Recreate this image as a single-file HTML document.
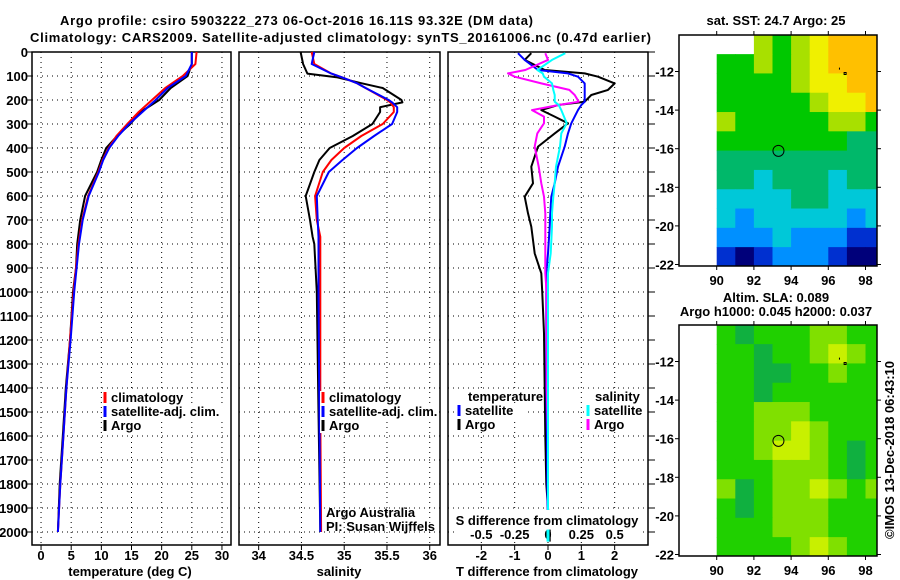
<!DOCTYPE html>
<html><head><meta charset="utf-8"><style>
html,body{margin:0;padding:0;background:#fff;}
svg{display:block;font-family:"Liberation Sans",sans-serif;}
.b{font-weight:bold;font-size:13px;}
</style></head><body>
<svg id="c" width="900" height="580" xmlns="http://www.w3.org/2000/svg"></svg>
<script>
// ---------- data ----------
const tempDepth=[0,50,100,150,200,250,300,350,400,450,500,600,700,800,900,1000,1200,1400,1600,1800,2000];
const tempArgo=[25,25,24.3,21.5,19.6,16.5,14.8,12.6,10.8,10,9.3,7.3,6.5,6,5.8,5.3,4.8,4.1,3.6,3.1,2.8];
const tempClim=[25.8,25.6,23.5,20.6,18.4,16.2,14.3,12.5,11.2,10.2,9.5,7.8,6.8,6.2,5.8,5.4,4.8,4.2,3.7,3.2,2.8];
const tempSat=[25,25,24,21,19,16.8,14.6,12.8,11.3,10.3,9.6,7.9,6.9,6.3,5.9,5.5,4.9,4.2,3.7,3.2,2.8];
const salDepth=[0,50,90,105,130,150,200,210,230,250,300,350,400,450,500,600,700,770,800,1000,1500,2000];
const salArgo=[34.49,34.52,34.57,34.91,35.2,35.45,35.67,35.68,35.42,35.42,35.33,35.1,34.83,34.71,34.65,34.55,34.6,34.63,34.65,34.68,34.7,34.72];
const salClim=[34.62,34.65,34.85,34.97,35.15,35.25,35.5,35.54,35.58,35.58,35.45,35.2,35.0,34.85,34.75,34.66,34.68,34.72,34.72,34.72,34.72,34.73];
const salSat=[34.65,34.62,34.85,34.97,35.15,35.25,35.52,35.56,35.62,35.62,35.56,35.35,35.15,34.98,34.82,34.68,34.69,34.7,34.7,34.7,34.71,34.72];
const dDepth=[5,33,75,89,103,131,158,179,207,221,242,269,297,339,394,478,547,603,672,728,839,922,1006,1172,1400,1600,1800,2000];
const dTArgo=[-0.5,-0.7,-0.1,1.1,1.5,2.0,1.8,1.3,1.1,0.3,-0.2,0.2,0.6,0.2,-0.3,-0.5,-0.45,-0.7,-0.6,-0.5,-0.4,-0.2,-0.17,-0.12,-0.1,-0.08,-0.05,0.05];
const dTSat=[-0.9,-0.7,-0.3,0.6,0.9,1.1,1.1,1.1,1.1,1.0,0.9,0.8,0.7,0.6,0.5,0.3,0.2,0.1,0.07,0.05,0.0,-0.05,-0.05,-0.05,-0.05,-0.03,-0.02,0.0];
const dSArgo=[-0.02,0.0,-0.17,-0.3,-0.25,-0.05,0.16,0.2,0.23,0.08,-0.12,-0.03,-0.03,-0.08,-0.1,-0.07,-0.05,-0.03,-0.02,-0.02,-0.02,-0.02,-0.01,-0.01,-0.01,0.0,0.0,0.0];
const dSSat=[0.13,0.03,-0.08,-0.04,-0.03,0.03,0.04,0.05,0.05,0.08,0.1,0.12,0.14,0.1,0.09,0.06,0.05,0.04,0.03,0.03,0.02,0.0,0.0,0.0,0.0,0.0,0.0,0.0];
const depthTicks=[0,100,200,300,400,500,600,700,800,900,1000,1100,1200,1300,1400,1500,1600,1700,1800,1900,2000];
const tempTicks=[0,5,10,15,20,25,30];
const salTicks=[34,34.5,35,35.5,36];
const salTickLabels=["34","34.5","35","35.5","36"];
const dTTicks=[-2,-1,0,1,2];
const dSTicks=[-0.5,-0.25,0,0.25,0.5];
const dSTickLabels=["-0.5","-0.25","0","0.25","0.5"];
const lonTicks=[90,92,94,96,98];
const latTicks=[-12,-14,-16,-18,-20,-22];
const sstGrid=[
[null,null,6,5,6,7,8,8,8],
[5,5,6,5,6,7,8,8,8],
[5,5,5,5,6,7,7,8,8],
[5,5,5,5,5,6,7,7,8],
[6,5,5,5,5,5,6,6,5],
[5,5,5,5,5,5,5,4,4],
[4,4,4,4,4,4,4,4,4],
[4,4,3,4,4,4,3,4,4],
[3,3,3,3,4,4,3,3,3],
[3,2,3,3,3,3,3,2,3],
[2,2,2,3,2,2,2,1,1],
[1,0,1,2,2,2,1,0,0]];
const slaGrid=[
[1,0,1,1,1,2,2,1,1],
[1,1,0,1,1,2,3,2,1],
[1,1,0,0,1,1,2,1,1],
[1,1,0,1,1,1,1,1,1],
[1,1,2,2,2,1,1,1,1],
[1,1,2,2,3,2,1,1,1],
[1,1,2,3,3,2,1,0,1],
[1,1,1,2,2,2,1,0,1],
[2,0,1,2,2,3,2,1,2],
[1,0,1,2,2,2,1,1,1],
[1,1,1,2,2,2,1,1,1],
[1,1,1,1,2,3,2,1,1]];
const argoLon=93.32, argoLat=-16.11;
const sstColors=["#00007a","#0030d0","#0090ff","#00c8d8","#00b86a","#00c800","#a8e000","#f0f000","#ffc000"];
const slaColors=["#10b040","#20d000","#80e000","#c8f000"];

// ---------- helpers ----------
const NS="http://www.w3.org/2000/svg";
const svg=document.getElementById('c');
function mk(tag,attrs,parent){const e=document.createElementNS(NS,tag);for(const k in attrs)e.setAttribute(k,attrs[k]);(parent||svg).appendChild(e);return e;}
function txt(s,x,y,anchor,cls,parent){const t=mk('text',{x:x,y:y,'text-anchor':anchor||'start','class':cls||'b'},parent);t.textContent=s;return t;}

const Y0=52, PY=0.24;
const yD=d=>Y0+d*PY;
const panels=[
 {x0:32,x1:231,lo:-1.5,hi:31.5,name:'temperature-panel'},
 {x0:239,x1:440,lo:33.77,hi:36.12,name:'salinity-panel'},
 {x0:448,x1:648,lo:-3,hi:3,name:'difference-panel'}];
const BOT=545;
function xf(p,v){return p.x0+(v-p.lo)/(p.hi-p.lo)*(p.x1-p.x0);}

panels.forEach((p,i)=>{
  const g=mk('g',{});
  
  
  depthTicks.forEach(d=>{
    const l=mk('line',{x1:p.x0,x2:p.x1,y1:yD(d),y2:yD(d),stroke:'#000','stroke-width':1,'stroke-dasharray':'1,4'},g);
    
    
  });
  const ticks=i==0?tempTicks:(i==1?salTicks:dTTicks);
  ticks.forEach(v=>{
    const l=mk('line',{x1:xf(p,v),x2:xf(p,v),y1:Y0,y2:BOT,stroke:'#000','stroke-width':1,'stroke-dasharray':'1,4'},g);
    
    
    mk('line',{x1:xf(p,v),x2:xf(p,v),y1:BOT,y2:BOT+5,stroke:'#000'},g);
  });
  const r=mk('rect',{x:p.x0,y:Y0,width:p.x1-p.x0,height:BOT-Y0,fill:'none',stroke:'#000','stroke-width':1.5},g);
  
  
});

depthTicks.forEach(d=>{
  const t=txt(String(d),28,yD(d)+5,'end');
  
  
  mk('line',{x1:27,x2:32,y1:yD(d),y2:yD(d),stroke:'#000'});
  mk('line',{x1:648,x2:655,y1:yD(d),y2:yD(d),stroke:'#000'});
});
tempTicks.forEach(v=>{const t=txt(String(v),xf(panels[0],v),560,'middle');});
salTicks.forEach((v,i)=>{const t=txt(salTickLabels[i],xf(panels[1],v),560,'middle');});
dTTicks.forEach(v=>{const t=txt(String(v),xf(panels[2],v),560,'middle');});
const pS={x0:448,x1:648,lo:-0.75,hi:0.75};

function line(p,xs,ds,color,name,w){
  const pts=xs.map((v,i)=>xf(p,v).toFixed(1)+','+yD(ds[i]).toFixed(1)).join(' ');
  const pl=mk('polyline',{points:pts,fill:'none',stroke:color,'stroke-width':w||2,'stroke-linejoin':'round'});
  
  
}
line(panels[0],tempArgo,tempDepth,'#000','temp-argo-line');
line(panels[0],tempClim,tempDepth,'#f00','temp-climatology-line');
line(panels[0],tempSat,tempDepth,'#00f','temp-satellite-line');
line(panels[1],salArgo,salDepth,'#000','salinity-argo-line');
line(panels[1],salClim,salDepth,'#f00','salinity-climatology-line');
line(panels[1],salSat,salDepth,'#00f','salinity-satellite-line');
line(panels[2],dTArgo,dDepth,'#000','t-diff-argo-line');
line(panels[2],dTSat,dDepth,'#00f','t-diff-satellite-line');
line(pS,dSArgo,dDepth,'#f0f','s-diff-argo-line');
line(pS,dSSat,dDepth,'#0ff','s-diff-satellite-line');

(function(){const b=mk('rect',{x:455,y:510,width:188,height:30,fill:'#fff'});})();
txt('S difference from climatology',547,525,'middle');
dSTicks.forEach((v,i)=>{const t=txt(dSTickLabels[i],xf(pS,v),539,'middle');});
(function(){
  line(panels[2],[dTArgo[dTArgo.length-1],dTArgo[dTArgo.length-1]],[1990,2040],'#000','t-diff-argo-tail');
  line(pS,[dSSat[dSSat.length-1],dSSat[dSSat.length-1]],[1990,2040],'#0ff','s-diff-sat-tail',3);
})();

[['temperature (deg C)',130,576,'x-axis-title-temperature'],['salinity',339,576,'x-axis-title-salinity'],['T difference from climatology',547,576,'x-axis-title-t-diff']].forEach(a=>{const t=txt(a[0],a[1],a[2],'middle');});

function legend(x,y,color,label,name,right){
  const w=Math.min(label.length*6.8+10,right-(x-2)-1);
  const bg=mk('rect',{x:x-2,y:y-11,width:w,height:14,fill:'#fff'});
  
  mk('line',{x1:x+1,x2:x+1,y1:y-10,y2:y+1,stroke:color,'stroke-width':3});
  const t=txt(label,x+7,y);
  
  
}
legend(104,402,'#f00','climatology','legend-climatology-t',231);
legend(104,416,'#00f','satellite-adj. clim.','legend-satellite-t',231);
legend(104,430,'#000','Argo','legend-argo-t',231);
legend(322,402,'#f00','climatology','legend-climatology-s',440);
legend(322,416,'#00f','satellite-adj. clim.','legend-satellite-s',440);
legend(322,430,'#000','Argo','legend-argo-s',440);
(function(){const b=mk('rect',{x:466,y:389,width:76,height:13,fill:'#fff'});})();
txt('temperature',468,401);
legend(458,415,'#00f','satellite','legend-satellite-dt',648);
legend(458,429,'#000','Argo','legend-argo-dt',648);
(function(){const b=mk('rect',{x:593,y:389,width:50,height:13,fill:'#fff'});})();
txt('salinity',595,401);
legend(587,415,'#0ff','satellite','legend-satellite-ds',648);
legend(587,429,'#f0f','Argo','legend-argo-ds',648);

const c1=txt('Argo Australia',326,517,'start','');c1.setAttribute('font-size','11.5');
const c2=txt('PI: Susan Wijffels',326,531,'start','');c2.setAttribute('font-size','11.5');

const t1=txt('Argo profile: csiro 5903222_273 06-Oct-2016 16.11S 93.32E (DM data)',60,25,'start');t1.setAttribute('font-size','15.5');t1.setAttribute('textLength','473');
const t2=txt('Climatology: CARS2009. Satellite-adjusted climatology: synTS_20161006.nc (0.47d earlier)',30,42,'start');t2.setAttribute('font-size','15.5');t2.setAttribute('textLength','621');

function map(top,grid,colors,name){
  const L=679,R=877,B=top+231;
  const lonX=lo=>716.7+(lo-90)*18.6;
  const latY=la=>top+36.5+(-12-la)*19.3;
  const g=mk('g',{});
  
  
  grid.forEach((row,ri)=>row.forEach((v,ci)=>{
    if(v===null)return;
    const x=lonX(90+ci), y=Math.max(latY(-10.1-ri),top);
    const w=Math.min(lonX(91+ci),R)-x, h=Math.min(latY(-11.1-ri),B)-y;
    const r=mk('rect',{x:x,y:y,width:w+0.5,height:h+0.5,fill:colors[v]},g);
    
    
  }));
  const f=mk('rect',{x:L,y:top,width:R-L,height:B-top,fill:'none',stroke:'#000','stroke-width':1.5},g);
  
  lonTicks.forEach(lo=>{
    mk('line',{x1:lonX(lo),x2:lonX(lo),y1:B,y2:B+4,stroke:'#000'},g);
    mk('line',{x1:lonX(lo),x2:lonX(lo),y1:top,y2:top-4,stroke:'#000'},g);
    const t=txt(String(lo),lonX(lo),B+19,'middle','b',g);
  });
  latTicks.forEach(la=>{
    mk('line',{x1:L-4,x2:L,y1:latY(la),y2:latY(la),stroke:'#000'},g);
    mk('line',{x1:R,x2:R+4,y1:latY(la),y2:latY(la),stroke:'#000'},g);
    const t=txt(String(la),674,latY(la)+5,'end','b',g);
  });
  const m=mk('circle',{cx:lonX(argoLon),cy:latY(argoLat),r:5.5,fill:'none',stroke:'#000','stroke-width':1},g);
  
  const s=mk('path',{d:`M${lonX(96.6)} ${latY(-11.8)} v2 M${lonX(96.85)} ${latY(-12.05)} h2 v2 h-2z`,stroke:'#000',fill:'none','stroke-width':1},g);
  
}
map(35,sstGrid,sstColors,'sst-map');
map(325,slaGrid,slaColors,'sla-map');
const m1=txt('sat. SST: 24.7 Argo: 25',776,25,'middle');
const m2=txt('Altim. SLA: 0.089',776,302,'middle');
const m3=txt('Argo h1000: 0.045 h2000: 0.037',776,316,'middle');
const ct=txt('©IMOS 13-Dec-2018 06:43:10',0,0,'middle','');
ct.setAttribute('font-size','13');
ct.setAttribute('transform','translate(894,450) rotate(-90)');


</script>
</body></html>
